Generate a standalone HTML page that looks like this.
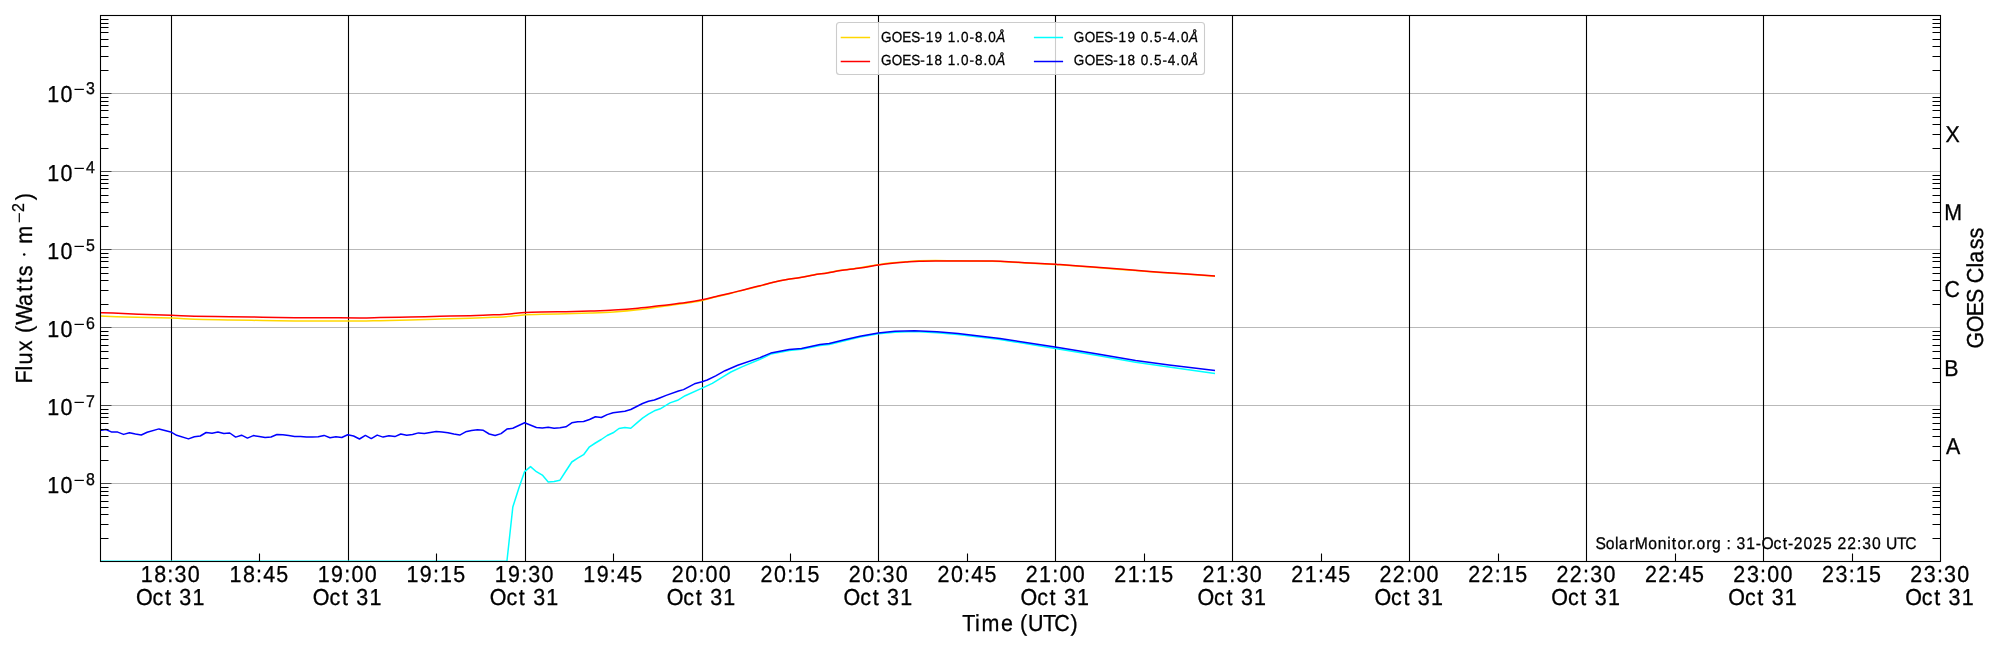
<!DOCTYPE html>
<html><head><meta charset="utf-8"><style>
html,body{margin:0;padding:0;width:2000px;height:650px;overflow:hidden;background:#fff}
svg{will-change:transform}
text{font-family:"Liberation Sans",sans-serif;text-rendering:geometricPrecision;stroke:#000;stroke-width:0.3px}
</style></head><body>
<svg width="2000" height="650" viewBox="0 0 2000 650" style="position:absolute;left:0;top:0">
<rect width="2000" height="650" fill="#fff"/>
<defs><clipPath id="ax"><rect x="100" y="15.14" width="1840" height="546.14"/></clipPath></defs>
<line x1="100.5" y1="483.5" x2="1940.5" y2="483.5" stroke="#b9b9b9" stroke-width="1.1"/>
<line x1="100.5" y1="405.5" x2="1940.5" y2="405.5" stroke="#b9b9b9" stroke-width="1.1"/>
<line x1="100.5" y1="327.5" x2="1940.5" y2="327.5" stroke="#b9b9b9" stroke-width="1.1"/>
<line x1="100.5" y1="249.5" x2="1940.5" y2="249.5" stroke="#b9b9b9" stroke-width="1.1"/>
<line x1="100.5" y1="171.5" x2="1940.5" y2="171.5" stroke="#b9b9b9" stroke-width="1.1"/>
<line x1="100.5" y1="93.5" x2="1940.5" y2="93.5" stroke="#b9b9b9" stroke-width="1.1"/>
<line x1="171.5" y1="15.5" x2="171.5" y2="561.5" stroke="#000" stroke-width="1.1"/>
<line x1="348.5" y1="15.5" x2="348.5" y2="561.5" stroke="#000" stroke-width="1.1"/>
<line x1="525.5" y1="15.5" x2="525.5" y2="561.5" stroke="#000" stroke-width="1.1"/>
<line x1="702.5" y1="15.5" x2="702.5" y2="561.5" stroke="#000" stroke-width="1.1"/>
<line x1="878.5" y1="15.5" x2="878.5" y2="561.5" stroke="#000" stroke-width="1.1"/>
<line x1="1055.5" y1="15.5" x2="1055.5" y2="561.5" stroke="#000" stroke-width="1.1"/>
<line x1="1232.5" y1="15.5" x2="1232.5" y2="561.5" stroke="#000" stroke-width="1.1"/>
<line x1="1409.5" y1="15.5" x2="1409.5" y2="561.5" stroke="#000" stroke-width="1.1"/>
<line x1="1586.5" y1="15.5" x2="1586.5" y2="561.5" stroke="#000" stroke-width="1.1"/>
<line x1="1763.5" y1="15.5" x2="1763.5" y2="561.5" stroke="#000" stroke-width="1.1"/>
<g clip-path="url(#ax)" fill="none" stroke-width="1.5" stroke-linejoin="round" stroke-linecap="butt">
<path d="M100.50,316.10 C104.75,316.25 114.17,316.68 126.00,317.00 C137.83,317.32 160.12,317.63 171.50,318.00 C182.88,318.37 184.55,318.88 194.30,319.20 C204.05,319.52 218.63,319.68 230.00,319.90 C241.37,320.12 251.67,320.33 262.50,320.50 C273.33,320.67 284.17,320.82 295.00,320.90 C305.83,320.97 316.67,320.92 327.50,320.95 C338.33,320.98 351.25,321.14 360.00,321.10 C368.75,321.06 371.67,320.88 380.00,320.70 C388.33,320.52 400.00,320.27 410.00,320.00 C420.00,319.73 430.00,319.41 440.00,319.10 C450.00,318.79 462.00,318.42 470.00,318.15 C478.00,317.88 482.00,317.74 488.00,317.50 C494.00,317.26 499.80,317.17 506.00,316.70 C512.20,316.23 519.20,315.10 525.20,314.70 C531.20,314.30 535.20,314.45 542.00,314.30 C548.80,314.15 558.00,314.01 566.00,313.80 C574.00,313.59 582.00,313.37 590.00,313.05 C598.00,312.73 606.00,312.44 614.00,311.90 C622.00,311.36 630.00,310.70 638.00,309.80 C646.00,308.90 654.00,307.58 662.00,306.50 C670.00,305.42 679.30,304.30 686.00,303.30 C692.70,302.30 697.17,301.58 702.20,300.50 C707.23,299.42 711.53,297.98 716.20,296.82 C720.87,295.66 725.37,294.73 730.20,293.53 C735.03,292.34 740.23,290.90 745.20,289.64 C750.17,288.38 755.28,287.17 760.00,285.95 C764.72,284.73 769.02,283.37 773.50,282.30 C777.98,281.23 782.42,280.33 786.90,279.55 C791.38,278.77 795.90,278.39 800.40,277.60 C804.90,276.80 809.42,275.60 813.90,274.80 C818.38,274.00 822.82,273.54 827.30,272.80 C831.78,272.05 835.35,271.15 840.80,270.30 C846.25,269.45 853.75,268.62 860.00,267.68 C866.25,266.74 872.92,265.46 878.30,264.66 C883.68,263.85 887.72,263.33 892.30,262.84 C896.88,262.35 901.32,262.07 905.80,261.73 C910.28,261.39 914.27,261.01 919.20,260.81 C924.13,260.62 928.60,260.56 935.40,260.56 C942.20,260.57 953.20,260.77 960.00,260.84 C966.80,260.91 970.82,260.90 976.20,260.98 C981.58,261.06 986.92,261.13 992.30,261.30 C997.68,261.46 1003.12,261.68 1008.50,261.95 C1013.88,262.23 1019.22,262.64 1024.60,262.96 C1029.98,263.27 1035.68,263.59 1040.80,263.86 C1045.92,264.13 1052.10,264.40 1055.30,264.56 C1058.50,264.73 1054.22,264.45 1060.00,264.86 C1065.78,265.28 1080.00,266.32 1090.00,267.07 C1100.00,267.82 1110.00,268.59 1120.00,269.38 C1130.00,270.16 1140.00,271.05 1150.00,271.78 C1160.00,272.52 1169.17,273.04 1180.00,273.79 C1190.83,274.54 1209.17,275.88 1215.00,276.30" stroke="#ffd700"/>
<path d="M100.50,312.80 C102.58,312.85 106.58,312.85 113.00,313.10 C119.42,313.35 129.25,313.93 139.00,314.30 C148.75,314.67 162.28,314.98 171.50,315.30 C180.72,315.62 184.55,315.96 194.30,316.20 C204.05,316.44 218.63,316.58 230.00,316.75 C241.37,316.92 251.67,317.04 262.50,317.20 C273.33,317.36 284.17,317.60 295.00,317.70 C305.83,317.80 316.67,317.77 327.50,317.80 C338.33,317.83 351.25,317.93 360.00,317.90 C368.75,317.87 371.67,317.75 380.00,317.60 C388.33,317.45 400.00,317.22 410.00,317.00 C420.00,316.78 430.00,316.52 440.00,316.30 C450.00,316.08 462.00,315.92 470.00,315.70 C478.00,315.48 482.50,315.22 488.00,315.00 C493.50,314.78 499.00,314.62 503.00,314.40 C507.00,314.18 508.30,314.02 512.00,313.70 C515.70,313.38 520.20,312.78 525.20,312.50 C530.20,312.22 535.20,312.13 542.00,312.00 C548.80,311.87 558.00,311.86 566.00,311.70 C574.00,311.54 582.00,311.32 590.00,311.05 C598.00,310.78 606.00,310.56 614.00,310.10 C622.00,309.64 630.00,309.07 638.00,308.30 C646.00,307.53 654.00,306.45 662.00,305.50 C670.00,304.55 679.30,303.55 686.00,302.60 C692.70,301.65 697.17,300.83 702.20,299.80 C707.23,298.77 711.53,297.50 716.20,296.40 C720.87,295.30 725.37,294.37 730.20,293.20 C735.03,292.03 740.23,290.63 745.20,289.40 C750.17,288.17 755.28,287.00 760.00,285.80 C764.72,284.60 769.02,283.25 773.50,282.20 C777.98,281.15 782.42,280.27 786.90,279.50 C791.38,278.73 795.90,278.37 800.40,277.60 C804.90,276.83 809.42,275.67 813.90,274.90 C818.38,274.13 822.82,273.72 827.30,273.00 C831.78,272.28 835.35,271.43 840.80,270.60 C846.25,269.77 853.75,268.93 860.00,268.00 C866.25,267.07 872.92,265.80 878.30,265.00 C883.68,264.20 887.72,263.68 892.30,263.20 C896.88,262.72 901.32,262.43 905.80,262.10 C910.28,261.77 914.27,261.40 919.20,261.20 C924.13,261.00 928.60,260.95 935.40,260.90 C942.20,260.85 953.20,260.90 960.00,260.90 C966.80,260.90 970.82,260.87 976.20,260.90 C981.58,260.93 986.92,260.97 992.30,261.10 C997.68,261.23 1003.12,261.43 1008.50,261.70 C1013.88,261.97 1019.22,262.38 1024.60,262.70 C1029.98,263.02 1035.68,263.33 1040.80,263.60 C1045.92,263.87 1052.10,264.13 1055.30,264.30 C1058.50,264.47 1054.22,264.18 1060.00,264.60 C1065.78,265.02 1080.00,266.05 1090.00,266.80 C1100.00,267.55 1110.00,268.32 1120.00,269.10 C1130.00,269.88 1140.00,270.77 1150.00,271.50 C1160.00,272.23 1169.17,272.75 1180.00,273.50 C1190.83,274.25 1209.17,275.58 1215.00,276.00" stroke="#ff0000"/>
<path d="M100.00,561.28 L506.92,561.28 L512.82,507.00 L518.72,488.50 L524.62,471.60 L530.51,466.60 L536.41,471.70 L542.31,475.10 L548.21,482.00 L554.10,481.50 L560.00,480.20 L565.90,471.00 L571.79,462.00 L577.69,458.20 L583.59,454.70 L589.49,446.80 L595.38,443.00 L601.28,439.50 L607.18,435.50 L613.08,432.80 L618.97,428.50 L624.87,427.50 L630.77,428.20 L636.67,423.10 L642.56,418.10 L648.46,414.20 L654.36,410.80 L660.26,408.80 L670.00,402.90 L677.60,400.30 L685.20,395.70 L702.10,388.10 L712.30,383.40 L722.50,377.10 L730.90,372.00 L741.90,366.90 L760.00,359.30 L770.80,354.10 L789.20,350.50 L801.50,349.30 L820.00,345.40 L829.20,344.40 L844.60,340.70 L860.00,337.10 L878.20,333.80 L895.00,332.20 L914.60,331.60 L937.00,332.70 L958.00,334.40 L979.00,337.00 L1000.00,339.50 L1055.20,348.40 L1097.70,355.50 L1135.60,362.20 L1169.00,367.00 L1215.00,373.40" stroke="#00ffff"/>
<path d="M100.00,430.40 L105.90,429.50 L111.79,432.10 L117.69,432.10 L123.59,434.40 L129.49,432.70 L135.38,434.10 L141.28,435.00 L147.18,432.30 L158.97,428.90 L170.77,431.90 L176.67,435.30 L188.46,438.90 L194.36,436.80 L200.26,436.00 L206.15,432.50 L212.05,433.20 L217.95,432.10 L223.85,433.60 L229.74,433.00 L235.64,437.10 L241.54,435.20 L247.44,438.10 L253.33,435.60 L259.23,436.40 L265.13,437.50 L271.03,437.00 L276.92,434.50 L282.82,434.70 L288.72,435.60 L294.62,436.60 L300.51,436.40 L306.41,437.10 L312.31,436.90 L318.21,436.80 L324.10,435.40 L330.00,437.70 L335.90,436.80 L341.79,437.50 L347.69,434.70 L353.59,436.00 L359.49,439.00 L365.38,435.40 L371.28,438.60 L377.18,435.10 L383.08,437.10 L388.97,435.70 L394.87,436.60 L400.77,434.00 L406.67,435.30 L412.56,434.50 L418.46,432.90 L424.36,433.50 L430.26,432.50 L436.15,431.40 L442.05,432.00 L447.95,432.70 L453.85,434.00 L459.74,435.10 L465.64,431.80 L471.54,430.40 L477.44,429.70 L483.33,430.30 L489.23,434.00 L495.13,435.50 L501.03,433.60 L506.92,429.10 L512.82,428.20 L524.62,422.80 L536.41,427.50 L542.31,428.10 L548.21,427.30 L554.10,428.20 L560.00,427.80 L565.90,426.80 L571.79,422.80 L577.69,421.80 L583.59,421.50 L589.49,419.50 L595.38,416.80 L601.28,417.50 L607.18,414.60 L613.08,412.80 L618.97,411.90 L624.87,411.20 L630.77,409.50 L636.67,406.50 L642.56,403.50 L648.46,401.30 L654.36,400.00 L660.26,397.70 L666.15,395.40 L678.50,391.00 L683.50,389.60 L694.50,383.80 L702.10,381.70 L707.20,380.00 L715.70,375.80 L725.00,370.70 L737.70,365.20 L760.00,357.60 L770.80,353.10 L789.20,349.60 L801.50,348.40 L820.00,344.40 L829.20,343.50 L844.60,339.80 L860.00,336.20 L878.20,332.90 L895.00,331.30 L914.60,330.75 L937.00,331.80 L958.00,333.50 L979.00,336.00 L1000.00,338.40 L1055.20,347.00 L1097.70,354.10 L1135.60,360.50 L1169.00,365.00 L1215.00,370.50" stroke="#0000ff"/>
</g>
<path d="M100.5,483.5h11 M100.5,405.5h11 M100.5,327.5h11 M100.5,249.5h11 M100.5,171.5h11 M100.5,93.5h11" stroke="#444" stroke-width="1.1" fill="none"/>
<path d="M100.5,538.5h8 M1940.5,538.5h-8 M100.5,524.5h8 M1940.5,524.5h-8 M100.5,514.5h8 M1940.5,514.5h-8 M100.5,507.5h8 M1940.5,507.5h-8 M100.5,501.5h8 M1940.5,501.5h-8 M100.5,495.5h8 M1940.5,495.5h-8 M100.5,491.5h8 M1940.5,491.5h-8 M100.5,487.5h8 M1940.5,487.5h-8 M100.5,460.5h8 M1940.5,460.5h-8 M100.5,446.5h8 M1940.5,446.5h-8 M100.5,436.5h8 M1940.5,436.5h-8 M100.5,429.5h8 M1940.5,429.5h-8 M100.5,423.5h8 M1940.5,423.5h-8 M100.5,417.5h8 M1940.5,417.5h-8 M100.5,413.5h8 M1940.5,413.5h-8 M100.5,409.5h8 M1940.5,409.5h-8 M100.5,382.5h8 M1940.5,382.5h-8 M100.5,368.5h8 M1940.5,368.5h-8 M100.5,358.5h8 M1940.5,358.5h-8 M100.5,351.5h8 M1940.5,351.5h-8 M100.5,345.5h8 M1940.5,345.5h-8 M100.5,339.5h8 M1940.5,339.5h-8 M100.5,335.5h8 M1940.5,335.5h-8 M100.5,331.5h8 M1940.5,331.5h-8 M100.5,304.5h8 M1940.5,304.5h-8 M100.5,290.5h8 M1940.5,290.5h-8 M100.5,280.5h8 M1940.5,280.5h-8 M100.5,273.5h8 M1940.5,273.5h-8 M100.5,267.5h8 M1940.5,267.5h-8 M100.5,261.5h8 M1940.5,261.5h-8 M100.5,257.5h8 M1940.5,257.5h-8 M100.5,253.5h8 M1940.5,253.5h-8 M100.5,226.5h8 M1940.5,226.5h-8 M100.5,212.5h8 M1940.5,212.5h-8 M100.5,202.5h8 M1940.5,202.5h-8 M100.5,195.5h8 M1940.5,195.5h-8 M100.5,188.5h8 M1940.5,188.5h-8 M100.5,183.5h8 M1940.5,183.5h-8 M100.5,179.5h8 M1940.5,179.5h-8 M100.5,175.5h8 M1940.5,175.5h-8 M100.5,148.5h8 M1940.5,148.5h-8 M100.5,134.5h8 M1940.5,134.5h-8 M100.5,124.5h8 M1940.5,124.5h-8 M100.5,117.5h8 M1940.5,117.5h-8 M100.5,110.5h8 M1940.5,110.5h-8 M100.5,105.5h8 M1940.5,105.5h-8 M100.5,101.5h8 M1940.5,101.5h-8 M100.5,97.5h8 M1940.5,97.5h-8 M100.5,70.5h8 M1940.5,70.5h-8 M100.5,56.5h8 M1940.5,56.5h-8 M100.5,46.5h8 M1940.5,46.5h-8 M100.5,39.5h8 M1940.5,39.5h-8 M100.5,32.5h8 M1940.5,32.5h-8 M100.5,27.5h8 M1940.5,27.5h-8 M100.5,23.5h8 M1940.5,23.5h-8 M100.5,19.5h8 M1940.5,19.5h-8 M259.5,561.5v-8 M436.5,561.5v-8 M613.5,561.5v-8 M790.5,561.5v-8 M967.5,561.5v-8 M1144.5,561.5v-8 M1321.5,561.5v-8 M1498.5,561.5v-8 M1675.5,561.5v-8 M1852.5,561.5v-8" stroke="#000" stroke-width="1.1" fill="none"/>
<rect x="100.5" y="15.5" width="1840" height="546" fill="none" stroke="#000" stroke-width="1.1"/>
<g font-family="Liberation Sans, sans-serif">
<text transform="translate(0,102.00) scale(0.93,1)" x="50.81 65.17" y="0" font-size="23.11" fill="#000" >10</text>
<rect x="74.5" y="88.80" width="9.4" height="1.2" fill="#000"/>
<text transform="translate(0,93.90) scale(0.93,1)" x="92.59" y="0" font-size="17.15" fill="#000" >3</text>
<text transform="translate(0,181.00) scale(0.93,1)" x="50.81 65.17" y="0" font-size="23.11" fill="#000" >10</text>
<rect x="74.5" y="167.80" width="9.4" height="1.2" fill="#000"/>
<text transform="translate(0,172.90) scale(0.93,1)" x="92.60" y="0" font-size="17.15" fill="#000" >4</text>
<text transform="translate(0,259.00) scale(0.93,1)" x="50.81 65.17" y="0" font-size="23.11" fill="#000" >10</text>
<rect x="74.5" y="245.80" width="9.4" height="1.2" fill="#000"/>
<text transform="translate(0,250.90) scale(0.93,1)" x="92.56" y="0" font-size="17.15" fill="#000" >5</text>
<text transform="translate(0,337.00) scale(0.93,1)" x="50.81 65.17" y="0" font-size="23.11" fill="#000" >10</text>
<rect x="74.5" y="323.80" width="9.4" height="1.2" fill="#000"/>
<text transform="translate(0,328.90) scale(0.93,1)" x="92.48" y="0" font-size="17.15" fill="#000" >6</text>
<text transform="translate(0,415.00) scale(0.93,1)" x="50.81 65.17" y="0" font-size="23.11" fill="#000" >10</text>
<rect x="74.5" y="401.80" width="9.4" height="1.2" fill="#000"/>
<text transform="translate(0,406.90) scale(0.93,1)" x="92.53" y="0" font-size="17.15" fill="#000" >7</text>
<text transform="translate(0,493.00) scale(0.93,1)" x="50.81 65.17" y="0" font-size="23.11" fill="#000" >10</text>
<rect x="74.5" y="479.80" width="9.4" height="1.2" fill="#000"/>
<text transform="translate(0,484.90) scale(0.93,1)" x="92.54" y="0" font-size="17.15" fill="#000" >8</text>
<text transform="translate(0,582.00) scale(0.93,1)" x="151.44 165.81 179.93 187.63 201.85" y="0" font-size="23.11" fill="#000" >18:30</text>
<text transform="translate(0,604.70) scale(0.93,1)" x="146.15 164.06 177.38 185.39 192.88 206.99" y="0" font-size="23.11" fill="#000" >Oct 31</text>
<text transform="translate(0,582.00) scale(0.93,1)" x="246.80 261.16 275.29 282.95 297.12" y="0" font-size="23.11" fill="#000" >18:45</text>
<text transform="translate(0,582.00) scale(0.93,1)" x="341.68 355.97 370.17 377.84 392.09" y="0" font-size="23.11" fill="#000" >19:00</text>
<text transform="translate(0,604.70) scale(0.93,1)" x="336.39 354.30 367.62 375.63 383.12 397.23" y="0" font-size="23.11" fill="#000" >Oct 31</text>
<text transform="translate(0,582.00) scale(0.93,1)" x="437.04 451.33 465.53 473.08 487.36" y="0" font-size="23.11" fill="#000" >19:15</text>
<text transform="translate(0,582.00) scale(0.93,1)" x="531.92 546.21 560.41 568.11 582.33" y="0" font-size="23.11" fill="#000" >19:30</text>
<text transform="translate(0,604.70) scale(0.93,1)" x="526.63 544.54 557.86 565.87 573.36 587.47" y="0" font-size="23.11" fill="#000" >Oct 31</text>
<text transform="translate(0,582.00) scale(0.93,1)" x="627.28 641.57 655.77 663.43 677.60" y="0" font-size="23.11" fill="#000" >19:45</text>
<text transform="translate(0,582.00) scale(0.93,1)" x="722.39 736.94 751.06 758.73 772.98" y="0" font-size="23.11" fill="#000" >20:00</text>
<text transform="translate(0,604.70) scale(0.93,1)" x="716.87 734.78 748.10 756.11 763.60 777.71" y="0" font-size="23.11" fill="#000" >Oct 31</text>
<text transform="translate(0,582.00) scale(0.93,1)" x="817.75 832.29 846.42 853.97 868.25" y="0" font-size="23.11" fill="#000" >20:15</text>
<text transform="translate(0,582.00) scale(0.93,1)" x="912.63 927.18 941.30 949.00 963.22" y="0" font-size="23.11" fill="#000" >20:30</text>
<text transform="translate(0,604.70) scale(0.93,1)" x="907.11 925.02 938.34 946.35 953.84 967.95" y="0" font-size="23.11" fill="#000" >Oct 31</text>
<text transform="translate(0,582.00) scale(0.93,1)" x="1007.99 1022.53 1036.66 1044.32 1058.49" y="0" font-size="23.11" fill="#000" >20:45</text>
<text transform="translate(0,582.00) scale(0.93,1)" x="1102.87 1117.30 1131.54 1139.21 1153.46" y="0" font-size="23.11" fill="#000" >21:00</text>
<text transform="translate(0,604.70) scale(0.93,1)" x="1097.35 1115.26 1128.58 1136.59 1144.08 1158.19" y="0" font-size="23.11" fill="#000" >Oct 31</text>
<text transform="translate(0,582.00) scale(0.93,1)" x="1198.22 1212.66 1226.90 1234.45 1248.73" y="0" font-size="23.11" fill="#000" >21:15</text>
<text transform="translate(0,582.00) scale(0.93,1)" x="1293.11 1307.54 1321.78 1329.48 1343.70" y="0" font-size="23.11" fill="#000" >21:30</text>
<text transform="translate(0,604.70) scale(0.93,1)" x="1287.59 1305.50 1318.82 1326.83 1334.32 1348.43" y="0" font-size="23.11" fill="#000" >Oct 31</text>
<text transform="translate(0,582.00) scale(0.93,1)" x="1388.46 1402.90 1417.14 1424.80 1438.97" y="0" font-size="23.11" fill="#000" >21:45</text>
<text transform="translate(0,582.00) scale(0.93,1)" x="1483.35 1497.60 1512.02 1519.69 1533.94" y="0" font-size="23.11" fill="#000" >22:00</text>
<text transform="translate(0,604.70) scale(0.93,1)" x="1477.83 1495.74 1509.06 1517.07 1524.56 1538.67" y="0" font-size="23.11" fill="#000" >Oct 31</text>
<text transform="translate(0,582.00) scale(0.93,1)" x="1578.70 1592.95 1607.38 1614.93 1629.21" y="0" font-size="23.11" fill="#000" >22:15</text>
<text transform="translate(0,582.00) scale(0.93,1)" x="1673.59 1687.84 1702.26 1709.96 1724.18" y="0" font-size="23.11" fill="#000" >22:30</text>
<text transform="translate(0,604.70) scale(0.93,1)" x="1668.07 1685.98 1699.30 1707.31 1714.80 1728.91" y="0" font-size="23.11" fill="#000" >Oct 31</text>
<text transform="translate(0,582.00) scale(0.93,1)" x="1768.94 1783.19 1797.62 1805.28 1819.45" y="0" font-size="23.11" fill="#000" >22:45</text>
<text transform="translate(0,582.00) scale(0.93,1)" x="1863.83 1878.40 1892.50 1900.17 1914.42" y="0" font-size="23.11" fill="#000" >23:00</text>
<text transform="translate(0,604.70) scale(0.93,1)" x="1858.31 1876.22 1889.54 1897.55 1905.04 1919.15" y="0" font-size="23.11" fill="#000" >Oct 31</text>
<text transform="translate(0,582.00) scale(0.93,1)" x="1959.18 1973.76 1987.86 1995.41 2009.69" y="0" font-size="23.11" fill="#000" >23:15</text>
<text transform="translate(0,582.00) scale(0.93,1)" x="2054.07 2068.64 2082.74 2090.44 2104.66" y="0" font-size="23.11" fill="#000" >23:30</text>
<text transform="translate(0,604.70) scale(0.93,1)" x="2048.55 2066.46 2079.78 2087.79 2095.28 2109.39" y="0" font-size="23.11" fill="#000" >Oct 31</text>
<text transform="translate(0,142.00) scale(0.93,1)" x="2092.00" y="0" font-size="22.97" fill="#000" >X</text>
<text transform="translate(0,220.00) scale(0.93,1)" x="2090.59" y="0" font-size="22.97" fill="#000" >M</text>
<text transform="translate(0,297.00) scale(0.93,1)" x="2090.83" y="0" font-size="22.97" fill="#000" >C</text>
<text transform="translate(0,376.00) scale(0.93,1)" x="2090.48" y="0" font-size="22.97" fill="#000" >B</text>
<text transform="translate(0,454.00) scale(0.93,1)" x="2092.51" y="0" font-size="22.97" fill="#000" >A</text>
<text transform="translate(0,630.90) scale(0.93,1)" x="1034.58 1048.34 1055.35 1076.33 1089.95 1096.66 1105.31 1121.64 1133.57 1150.97" y="0" font-size="23.11" fill="#000" >Time (UTC)</text>
<g transform="translate(32.3,380.8) rotate(-90)">
<text transform="translate(0,0.00) scale(0.93,1)" x="-2.90 11.21 17.49 31.87 44.69 51.39 60.31 80.49 95.76 104.54 112.40" y="0" font-size="23.26" fill="#000" >Flux (Watts</text>
<circle cx="126.30" cy="-8.10" r="1.25" fill="#000"/>
<text transform="translate(0,0.00) scale(0.93,1)" x="147.30" y="0" font-size="23.26" fill="#000" >m</text>
<rect x="158.50" y="-13.60" width="9.2" height="1.2" fill="#000"/>
<text transform="translate(0,-7.90) scale(0.93,1)" x="181.63" y="0" font-size="17.15" fill="#000" >2</text>
<text transform="translate(0,0.00) scale(0.93,1)" x="194.20" y="0" font-size="23.26" fill="#000" >)</text>
</g>
<g transform="translate(1983.4,347) rotate(-90)">
<text transform="translate(0,0.00) scale(0.93,1)" x="-1.58 15.93 33.03 47.40 62.45 68.57 85.40 90.68 105.02 116.69" y="0" font-size="23.11" fill="#000" >GOES Class</text>
</g>
</g>
<rect x="836.5" y="22.5" width="368" height="52" rx="3" ry="3" fill="#fff" fill-opacity="0.8" stroke="#cccccc" stroke-width="1.1"/>
<g font-family="Liberation Sans, sans-serif">
<line x1="840.7" y1="37.5" x2="870.1" y2="37.5" stroke="#ffd700" stroke-width="1.5"/>
<text transform="translate(0,42.00) scale(0.93,1)" x="947.24 958.92 970.29 979.86 989.64 995.40 1004.91 1014.11 1019.15 1028.36 1033.46 1042.53 1048.35 1057.50 1062.60" y="0" font-size="14.54" fill="#000" >GOES-19 1.0-8.0</text>
<text transform="translate(0,42.00) scale(0.93,1)" x="1071.17" y="0" font-size="14.54" fill="#000" font-style="italic">Å</text>
<line x1="840.7" y1="61.5" x2="870.1" y2="61.5" stroke="#ff0000" stroke-width="1.5"/>
<text transform="translate(0,65.10) scale(0.93,1)" x="947.24 958.92 970.29 979.86 989.64 995.40 1004.96 1014.11 1019.15 1028.36 1033.46 1042.53 1048.35 1057.50 1062.60" y="0" font-size="14.54" fill="#000" >GOES-18 1.0-8.0</text>
<text transform="translate(0,65.10) scale(0.93,1)" x="1071.17" y="0" font-size="14.54" fill="#000" font-style="italic">Å</text>
<line x1="1033.9" y1="37.5" x2="1063.1" y2="37.5" stroke="#00ffff" stroke-width="1.5"/>
<text transform="translate(0,42.00) scale(0.93,1)" x="1154.66 1166.34 1177.71 1187.28 1197.06 1202.82 1212.33 1221.53 1226.63 1235.78 1240.82 1249.95 1255.77 1264.92 1270.02" y="0" font-size="14.54" fill="#000" >GOES-19 0.5-4.0</text>
<text transform="translate(0,42.00) scale(0.93,1)" x="1278.59" y="0" font-size="14.54" fill="#000" font-style="italic">Å</text>
<line x1="1033.9" y1="61.5" x2="1063.1" y2="61.5" stroke="#0000ff" stroke-width="1.5"/>
<text transform="translate(0,65.10) scale(0.93,1)" x="1154.66 1166.34 1177.71 1187.28 1197.06 1202.82 1212.38 1221.53 1226.63 1235.78 1240.82 1249.95 1255.77 1264.92 1270.02" y="0" font-size="14.54" fill="#000" >GOES-18 0.5-4.0</text>
<text transform="translate(0,65.10) scale(0.93,1)" x="1278.59" y="0" font-size="14.54" fill="#000" font-style="italic">Å</text>
</g>
<g font-family="Liberation Sans, sans-serif">
<text transform="translate(0,548.90) scale(0.93,1)" x="1715.48 1726.57 1736.69 1740.58 1751.81 1757.74 1772.19 1782.45 1792.73 1797.71 1803.66 1814.26 1818.88 1824.18 1834.79 1840.78 1851.05 1856.44 1861.81 1867.32 1877.67 1887.83 1893.97 1907.10 1916.86 1922.62 1928.71 1939.38 1949.62 1960.23 1970.48 1975.75 1986.20 1996.77 2002.43 2012.86 2023.05 2027.93 2039.90 2048.66" y="0" font-size="16.86" fill="#000" >SolarMonitor.org : 31-Oct-2025 22:30 UTC</text>
</g>
</svg>
</body></html>
